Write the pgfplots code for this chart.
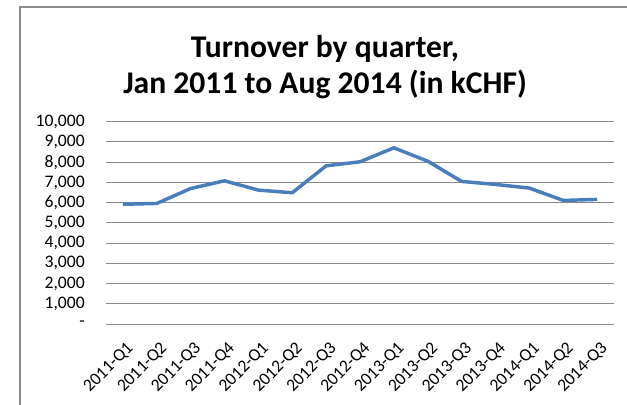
\documentclass[border=0pt]{standalone}
\usepackage{pgfplots}
\pgfplotsset{compat=1.18}
\usepackage{fontspec}
\setmainfont{Carlito}
\definecolor{linecol}{HTML}{4A7EBB}
\definecolor{gridcol}{HTML}{898989}
\definecolor{framecol}{HTML}{8C8C8C}
\begin{document}
\begin{tikzpicture}
\useasboundingbox (0pt,0pt) rectangle (470.25pt,-303pt);
\draw[framecol,line width=1.1pt] (15pt,-310pt) -- (15pt,-5.25pt) -- (480pt,-5.25pt);
\node[anchor=base,font=\fontsize{23.7pt}{28pt}\selectfont\bfseries] at (243.75pt,-42.75pt) {Turnover by quarter,};
\node[anchor=base,font=\fontsize{23.7pt}{28pt}\selectfont\bfseries] at (243.75pt,-69.75pt) {Jan 2011 to Aug 2014 (in kCHF)};
\begin{axis}[
  at={(79.5pt,-243pt)}, anchor=south west,
  scale only axis, width=381pt, height=151.7pt,
  xmin=-0.5, xmax=14.5, ymin=0, ymax=10000,
  scaled y ticks=false,
  axis line style={draw=none},
  xtick={0,...,14},
  xticklabels={2011-Q1,2011-Q2,2011-Q3,2011-Q4,2012-Q1,2012-Q2,2012-Q3,2012-Q4,2013-Q1,2013-Q2,2013-Q3,2013-Q4,2014-Q1,2014-Q2,2014-Q3},
  ytick={0,1000,...,10000},
  yticklabels={{-},{1,000},{2,000},{3,000},{4,000},{5,000},{6,000},{7,000},{8,000},{9,000},{10,000}},
  major tick length=0pt,
  ymajorgrids, grid style={gridcol, line width=0.75pt},
  tick label style={font=\fontsize{13.2pt}{15pt}\selectfont},
  yticklabel style={anchor=east, inner sep=0pt, xshift=-15.75pt},
  xticklabel style={xshift=2pt, yshift=-12.5pt, rotate=45, anchor=north east, inner sep=0pt},
  clip=false,
]
\addplot[linecol, line width=2.6pt, line join=round] coordinates {
(0,5920) (1,5960) (2,6700) (3,7080) (4,6620) (5,6490) (6,7820) (7,8020)
(8,8710) (9,8050) (10,7050) (11,6900) (12,6720) (13,6110) (14,6160)
};
\end{axis}
\end{tikzpicture}
\end{document}
